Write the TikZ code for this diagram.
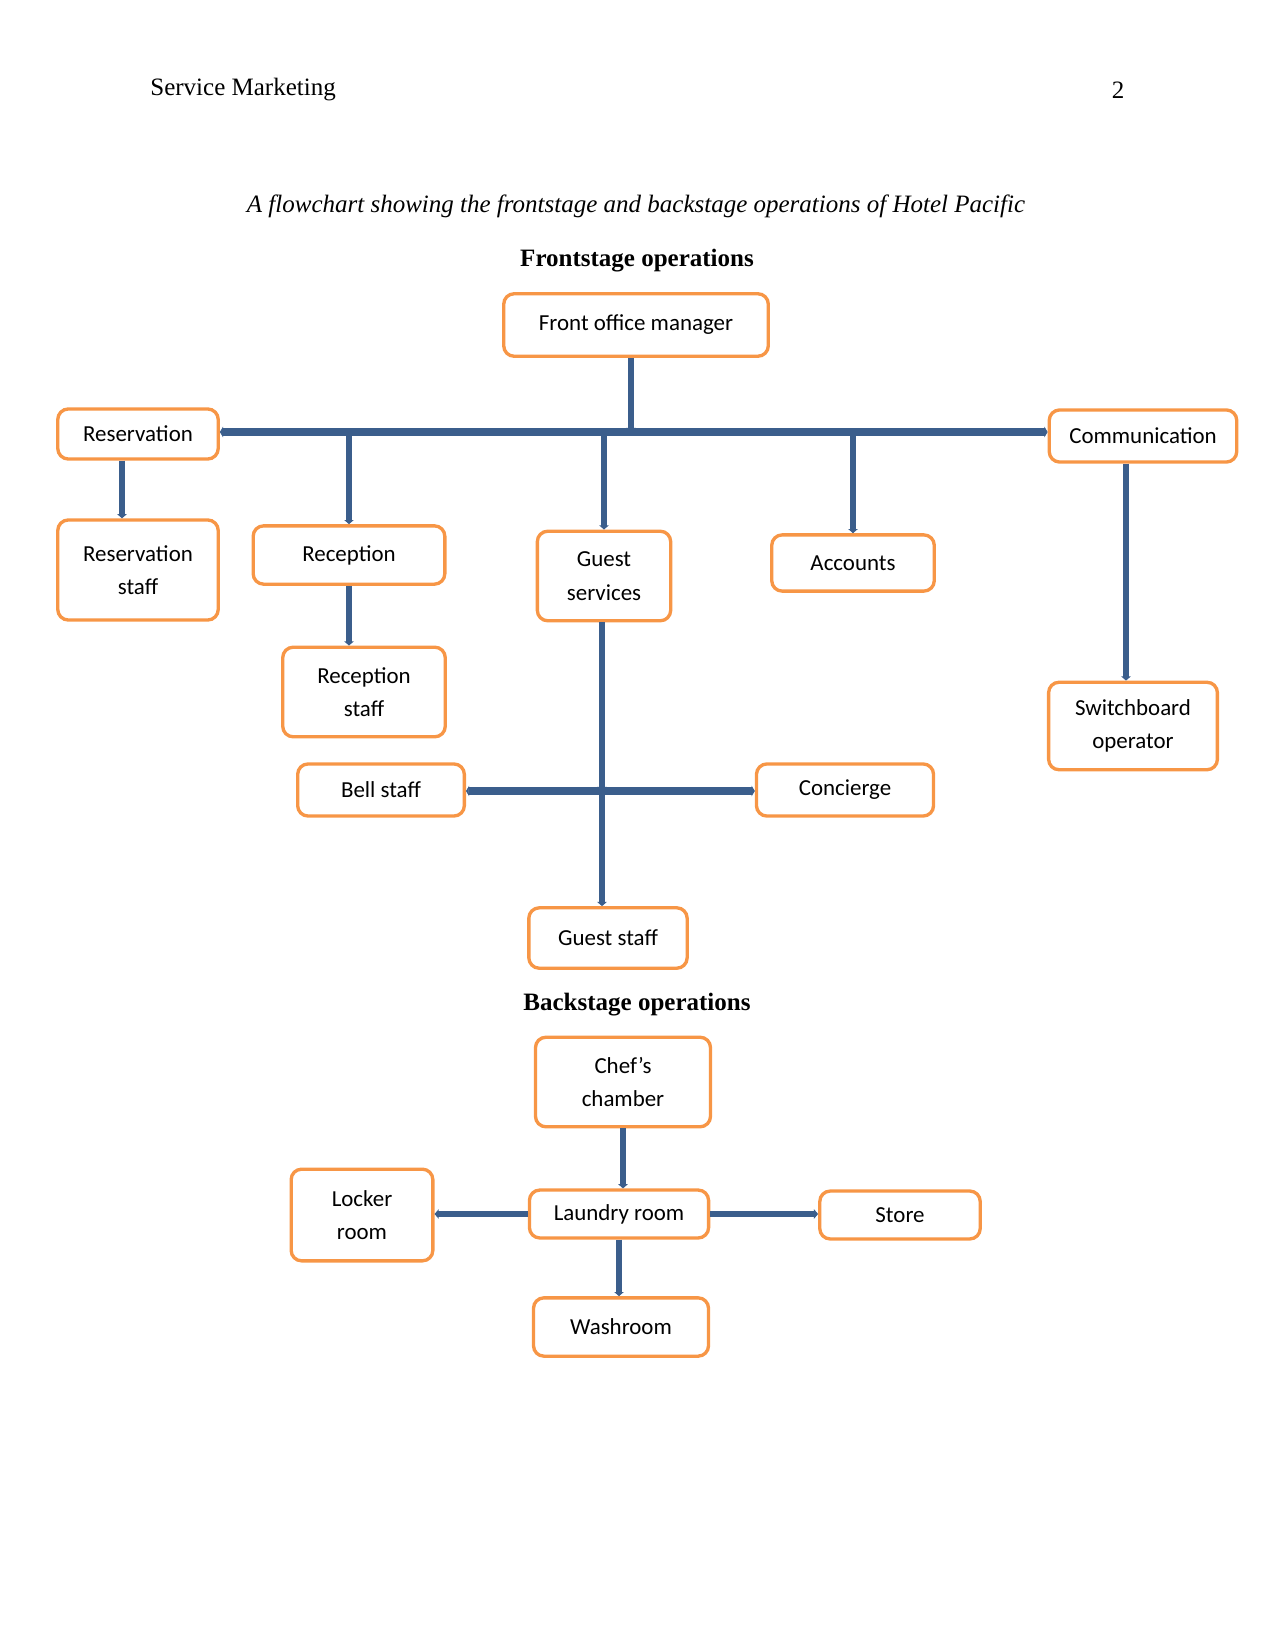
\documentclass[tikz,border=0pt]{standalone}
\usepackage{fontspec}
\setmainfont{Liberation Serif}
\newfontfamily\boxfont{Carlito}
\usepackage{xcolor}
\usetikzlibrary{arrows.meta}
\definecolor{linkblue}{RGB}{59,94,140}
\definecolor{boxorange}{RGB}{247,150,70}

\begin{document}
\begin{tikzpicture}[x=0.48pt, y=-0.48pt,
	head/.style={inner sep=0pt, font=\fontsize{12}{14.4}\selectfont},
	item/.style={draw=boxorange, line width=1.6pt, rounded corners=5pt, fill=white, align=center, inner sep=0pt, font=\boxfont\fontsize{11}{16}\selectfont},
	link/.style={draw=linkblue, line width=2.8pt, -{Triangle[length=2pt,width=4.5pt]}},
	bus/.style={draw=linkblue, line width=3.8pt, {Triangle[length=1.5pt,width=5pt]}-{Triangle[length=1.5pt,width=5pt]}}]
	\useasboundingbox (0,0) rectangle (1275,1650);
	% page head and titles
	\node[head, anchor=west] (hdr) at (150,90) {Service Marketing};
	\node[head] (pg) at (1118,90) {2};
	\node[head, font=\fontsize{12}{14.4}\selectfont\itshape] (cap) at (636,206) {A flowchart showing the frontstage and backstage operations of Hotel Pacific};
	\node[head, font=\fontsize{12}{14.4}\selectfont\bfseries] (front) at (637,261) {Frontstage operations};
	\node[head, font=\fontsize{12}{14.4}\selectfont\bfseries] (back) at (637,1005) {Backstage operations};
	% frontstage
	\node[item, minimum width=127pt, minimum height=30pt] (fom) at (636,325) {Front office manager};
	\node[item, minimum width=77pt, minimum height=24pt] (resv) at (138,434) {Reservation};
	\node[item, minimum width=90pt, minimum height=25pt] (comm) at (1143,436) {Communication};
	\node[item, minimum width=77pt, minimum height=48pt] (rstaff) at (138,570) {Reservation\\staff};
	\node[item, minimum width=92pt, minimum height=28pt] (recp) at (349,555) {Reception};
	\node[item, minimum width=64pt, minimum height=43pt] (gsrv) at (604,576) {Guest\\services};
	\node[item, minimum width=78pt, minimum height=27pt] (acct) at (853,563) {Accounts};
	\node[item, minimum width=78pt, minimum height=43pt] (recstaff) at (364,692) {Reception\\staff};
	\node[item, minimum width=81pt, minimum height=42pt] (swb) at (1133,726) {Switchboard\\operator};
	\node[item, minimum width=80pt, minimum height=25pt] (bell) at (381,790) {Bell staff};
	\node[item, minimum width=85pt, minimum height=25pt] (conc) at (845,790) {Concierge};
	\node[item, minimum width=76pt, minimum height=29pt] (gstaff) at (608,938) {Guest staff};
	\coordinate (j1) at (631,432);
	\coordinate (j2) at (602,791);
	\coordinate (r1) at (122,434);
	\coordinate (c1) at (1126,436);
	\draw[link] (j1 |- fom.south) -- (j1);
	\draw[bus] (resv.east |- j1) -- (comm.west |- j1);
	\draw[link] (recp.north |- j1) -- (recp.north);
	\draw[link] (gsrv.north |- j1) -- (gsrv.north);
	\draw[link] (acct.north |- j1) -- (acct.north);
	\draw[link] (r1 |- resv.south) -- (r1 |- rstaff.north);
	\draw[link] (recp.south) -- (recp.south |- recstaff.north);
	\draw[link] (c1 |- comm.south) -- (c1 |- swb.north);
	\draw[link] (j2 |- gsrv.south) -- (j2);
	\draw[bus] (bell.east |- j2) -- (conc.west |- j2);
	\draw[link] (j2) -- (j2 |- gstaff.north);
	% backstage
	\node[item, minimum width=84pt, minimum height=43pt] (chef) at (623,1082) {Chef’s\\chamber};
	\node[item, minimum width=68pt, minimum height=44pt] (locker) at (362,1215) {Locker\\room};
	\node[item, minimum width=86pt, minimum height=23pt] (laundry) at (619,1214) {Laundry room};
	\node[item, minimum width=77pt, minimum height=23pt] (store) at (900,1215) {Store};
	\node[item, minimum width=84pt, minimum height=28pt] (wash) at (621,1327) {Washroom};
	\draw[link] (chef.south) -- (chef.south |- laundry.north);
	\draw[link] (laundry.west) -- (laundry.west -| locker.east);
	\draw[link] (laundry.east) -- (laundry.east -| store.west);
	\draw[link] (laundry.south) -- (laundry.south |- wash.north);
\end{tikzpicture}
\end{document}
